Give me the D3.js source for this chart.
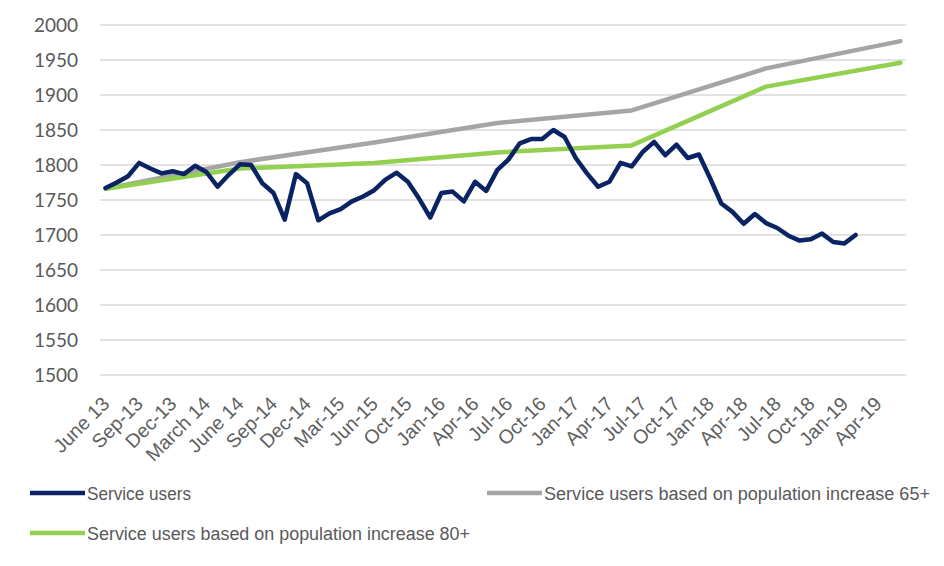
<!DOCTYPE html>
<html>
<head>
<meta charset="utf-8">
<script src="https://cdn.jsdelivr.net/npm/d3@7"></script>
<style>
  html, body { margin: 0; padding: 0; background: #fff; }
  svg { display: block; }
</style>
</head>
<body>
<svg id="chart" width="944" height="566"></svg>
<script>
// Monthly categories (one month missing in summer 2015)
const categories = [
  "June 13","Jul-13","Aug-13","Sep-13","Oct-13","Nov-13","Dec-13","Jan-14","Feb-14",
  "March 14","Apr-14","May-14","June 14","Jul-14","Aug-14","Sep-14","Oct-14","Nov-14",
  "Dec-14","Jan-15","Feb-15","Mar-15","Apr-15","May-15","Jun-15","Aug-15","Sep-15",
  "Oct-15","Nov-15","Dec-15","Jan-16","Feb-16","Mar-16","Apr-16","May-16","Jun-16",
  "Jul-16","Aug-16","Sep-16","Oct-16","Nov-16","Dec-16","Jan-17","Feb-17","Mar-17",
  "Apr-17","May-17","Jun-17","Jul-17","Aug-17","Sep-17","Oct-17","Nov-17","Dec-17",
  "Jan-18","Feb-18","Mar-18","Apr-18","May-18","Jun-18","Jul-18","Aug-18","Sep-18",
  "Oct-18","Nov-18","Dec-18","Jan-19","Feb-19","Mar-19","Apr-19","May-19","Jun-19"
];

// Axis labels shown on the category axis
const tickLabels = [
  "June 13","Sep-13","Dec-13","March 14","June 14","Sep-14","Dec-14","Mar-15",
  "Jun-15","Oct-15","Jan-16","Apr-16","Jul-16","Oct-16","Jan-17","Apr-17",
  "Jul-17","Oct-17","Jan-18","Apr-18","Jul-18","Oct-18","Jan-19","Apr-19"
];

const yTicks = [1500,1550,1600,1650,1700,1750,1800,1850,1900,1950,2000];

// Actual service users, monthly from June 13
const serviceUsers = [
  1767,1775,1784,1803,1795,1788,1791,1787,1799,1790,1769,1786,1801,1800,1774,1760,
  1722,1787,1774,1721,1731,1737,1748,1755,1764,1779,1789,1776,1752,1725,1760,1762,
  1748,1776,1763,1793,1808,1831,1837,1837,1850,1840,1810,1788,1769,1776,1803,1798,
  1819,1833,1814,1829,1810,1815,1781,1745,1733,1716,1730,1717,1710,1699,1692,1694,
  1702,1690,1688,1700
];

// Projections, one value per June
const projectionMonths = ["June 13","June 14","Jun-15","Jun-16","Jun-17","Jun-18","Jun-19"];
const projection65 = [1766,1804,1832,1860,1878,1938,1977];
const projection80 = [1766,1795,1803,1818,1828,1912,1946];

const seriesNames = [
  "Service users",
  "Service users based on population increase 65+",
  "Service users based on population increase 80+"
];
const seriesColors = ["#0a2463", "#a5a5a5", "#92d050"];

const svg = d3.select("#chart");
const plot = { left: 100, right: 906, top: 25, bottom: 375 };

const x = d3.scaleBand().domain(categories).range([plot.left, plot.right]).padding(0);
const cx = c => x(c) + x.bandwidth() / 2;
const y = d3.scaleLinear().domain([1500, 2000]).range([plot.bottom, plot.top]);

// Horizontal gridlines
svg.append("g")
  .selectAll("line")
  .data(yTicks)
  .join("line")
  .attr("x1", plot.left).attr("x2", plot.right)
  .attr("y1", d => y(d)).attr("y2", d => y(d))
  .attr("stroke", "#d9d9d9").attr("stroke-width", 1.5);

// Value axis labels
const yAxis = svg.append("g")
  .attr("transform", `translate(${plot.left},0)`)
  .call(d3.axisLeft(y).tickValues(yTicks).tickSize(0).tickPadding(22).tickFormat(d3.format("d")));
yAxis.select(".domain").remove();
yAxis.selectAll("text")
  .attr("fill", "#595959")
  .style("font-family", "Lato, 'Open Sans', sans-serif")
  .style("font-size", "19px");

// Category axis labels, rotated
const xAxis = svg.append("g")
  .attr("transform", `translate(0,${plot.bottom})`)
  .call(d3.axisBottom(x).tickValues(tickLabels).tickSize(0).tickPadding(0));
xAxis.select(".domain").remove();
xAxis.selectAll("text")
  .attr("fill", "#5f5f5f")
  .style("font-family", "'Liberation Sans', Arial, sans-serif")
  .style("font-size", "19.5px")
  .attr("text-anchor", "end")
  .attr("dy", "0")
  .attr("y", 0)
  .attr("transform", "translate(5,30) rotate(-45)");

// Lines
const line = d3.line()
  .x(d => cx(d.c))
  .y(d => y(d.v));

const serviceData = serviceUsers.map((v, i) => ({ c: categories[i], v }));
const p65Data = projection65.map((v, i) => ({ c: projectionMonths[i], v }));
const p80Data = projection80.map((v, i) => ({ c: projectionMonths[i], v }));

[[p65Data, seriesColors[1]], [p80Data, seriesColors[2]], [serviceData, seriesColors[0]]]
  .forEach(([data, color]) => {
    svg.append("path")
      .datum(data)
      .attr("d", line)
      .attr("fill", "none")
      .attr("stroke", color)
      .attr("stroke-width", 4.5)
      .attr("stroke-linejoin", "round")
      .attr("stroke-linecap", "round");
  });

// Legend
const legendItems = [
  { name: seriesNames[0], color: seriesColors[0], x: 30, y: 493, w: 104 },
  { name: seriesNames[1], color: seriesColors[1], x: 487, y: 493, w: 386 },
  { name: seriesNames[2], color: seriesColors[2], x: 30, y: 533, w: 383 }
];
const lg = svg.append("g").selectAll("g").data(legendItems).join("g")
  .attr("transform", d => `translate(${d.x},${d.y})`);
lg.append("line")
  .attr("x1", 0).attr("x2", 55).attr("y1", 0).attr("y2", 0)
  .attr("stroke", d => d.color).attr("stroke-width", 4.5);
lg.append("text")
  .attr("x", 57).attr("y", 6.5)
  .attr("fill", "#595959")
  .style("font-family", "'Liberation Sans', Arial, sans-serif")
  .style("font-size", "18px")
  .attr("textLength", d => d.w)
  .attr("lengthAdjust", "spacingAndGlyphs")
  .text(d => d.name);
</script>
</body>
</html>
